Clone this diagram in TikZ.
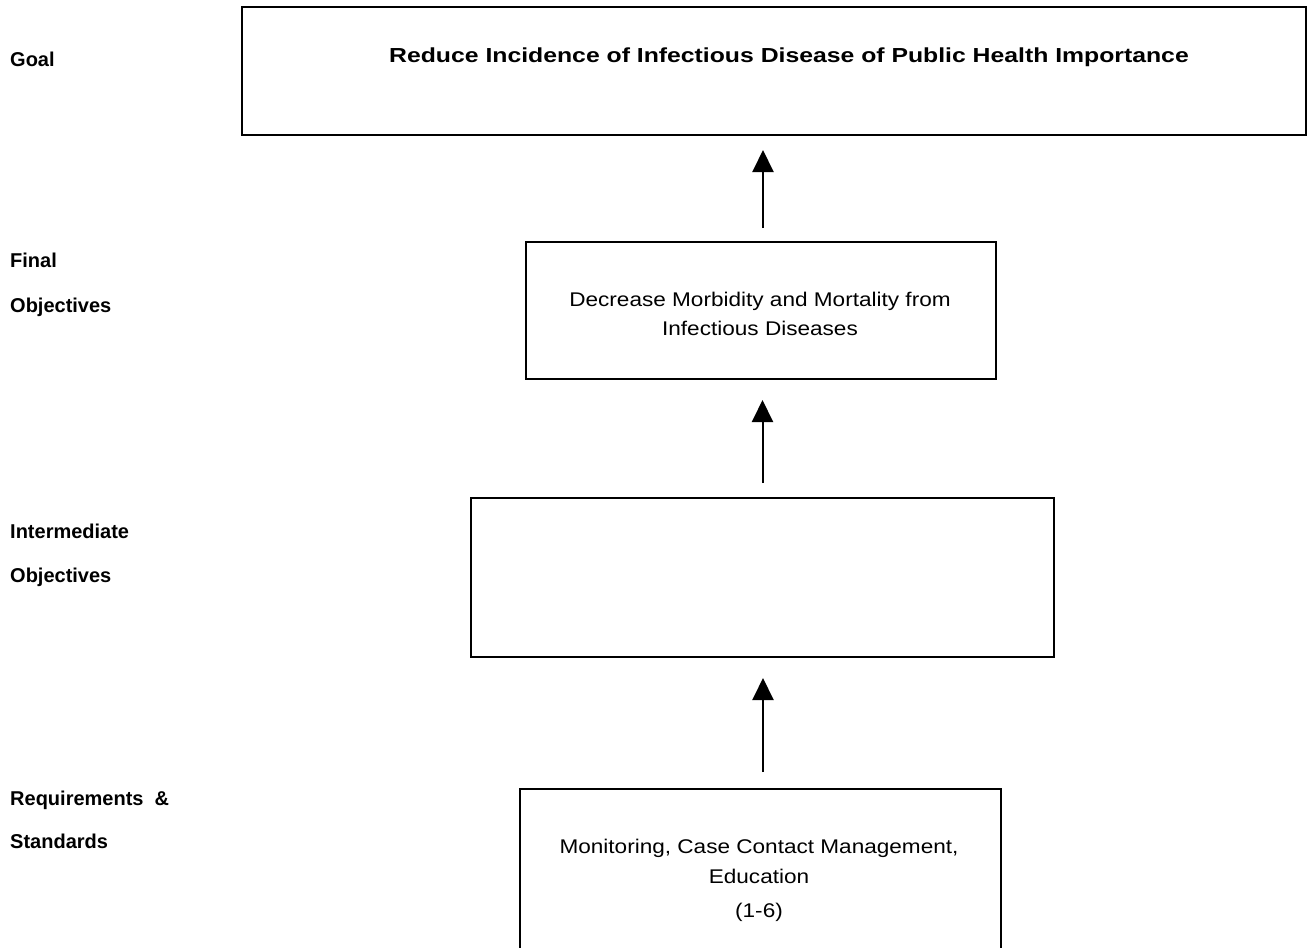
\documentclass[tikz,border=0pt]{standalone}
\usepackage{fontspec}
\setmainfont{Liberation Sans}
\newfontfamily\boxfont[FakeStretch=1.14]{Liberation Sans}
\newfontfamily\titlefont[FakeStretch=1.22]{Liberation Sans}
\usetikzlibrary{arrows.meta}
\begin{document}
\begin{tikzpicture}[x=1pt,y=-1pt,
  box/.style={draw=black, line width=2pt, rectangle, inner sep=0pt, anchor=north west},
  levellabel/.style={anchor=base west, inner sep=0pt, font=\bfseries\fontsize{20}{24}\selectfont},
  boxtext/.style={anchor=base, inner sep=0pt, font=\boxfont\fontsize{19.8}{24}\selectfont},
  arr/.style={draw=black, line width=2pt, -{Triangle[length=22pt, width=21pt]}}
]
\useasboundingbox (0,0) rectangle (1307,948);

% level boxes
\node[box, minimum width=1064pt, minimum height=128pt] (goal) at (241,6) {};
\node[box, minimum width=470pt, minimum height=137pt] (final) at (525,241) {};
\node[box, minimum width=583pt, minimum height=159pt] (inter) at (470,497) {};
\node[box, minimum width=481pt, minimum height=200pt] (req) at (519,788) {};

% box texts
\node[boxtext, font=\titlefont\bfseries\fontsize{20.3}{24}\selectfont] (goaltext) at (789,62) {Reduce Incidence of Infectious Disease of Public Health Importance};
\node[boxtext] (finaltext1) at (760,306) {Decrease Morbidity and Mortality from};
\node[boxtext] (finaltext2) at (760,335) {Infectious Diseases};
\node[boxtext] (reqtext1) at (759,853) {Monitoring, Case Contact Management,};
\node[boxtext] (reqtext2) at (759,883) {Education};
\node[boxtext] (reqnum) at (759,917) {(1-6)};

% level labels
\node[levellabel] (lgoal) at (10,66) {Goal};
\node[levellabel] (lfinal1) at (10,267) {Final};
\node[levellabel] (lfinal2) at (10,312) {Objectives};
\node[levellabel] (linter1) at (10,538) {Intermediate};
\node[levellabel] (linter2) at (10,582) {Objectives};
\node[levellabel] (lreq1) at (10,805) {Requirements~~\&};
\node[levellabel] (lreq2) at (10,848) {Standards};

% upward arrows between levels
\draw[arr, shorten <=13pt, shorten >=14pt] ([xshift=2pt]final.north) -- ([xshift=2pt]final.north |- goal.south);
\draw[arr, shorten <=14pt, shorten >=20pt] (inter.north) -- (inter.north |- final.south);
\draw[arr, shorten <=16pt, shorten >=20pt] ([xshift=0.5pt]inter.south |- req.north) -- ([xshift=0.5pt]inter.south);
\end{tikzpicture}
\end{document}
